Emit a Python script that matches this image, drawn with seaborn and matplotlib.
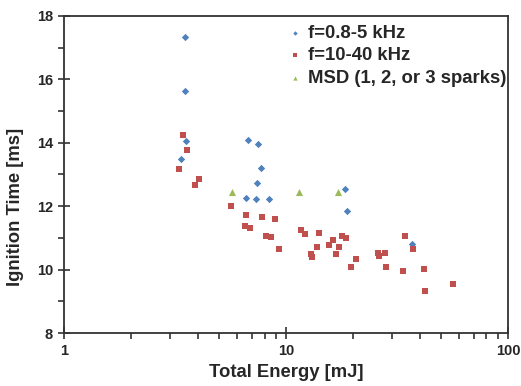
import numpy as np
import pandas as pd
import matplotlib
matplotlib.use("Agg")
import matplotlib.pyplot as plt
import seaborn as sns
from matplotlib.ticker import FixedLocator, NullFormatter, LogLocator

# data
low_f_energy = [3.51, 3.51, 3.53, 3.37, 6.74, 7.48, 7.7, 7.4, 6.6, 7.3, 8.4, 18.4, 18.9, 36.9]
low_f_time = [17.34, 15.63, 14.06, 13.49, 14.1, 13.96, 13.2, 12.73, 12.26, 12.24, 12.23, 12.54, 11.85, 10.8]

high_f_energy = [3.44, 3.59, 3.30, 4.06, 3.89, 5.65, 6.6, 6.5, 6.88, 7.8, 8.9, 8.1, 8.6, 9.3,
                 11.7, 12.2, 14.1, 13.0, 13.1, 13.8, 15.6, 16.3, 16.8, 17.3, 17.9, 18.6, 19.7,
                 20.6, 26.0, 26.2, 27.9, 28.2, 33.6, 34.3, 37.2, 41.8, 42.3, 56.5]
high_f_time = [14.25, 13.77, 13.17, 12.86, 12.67, 12.0, 11.72, 11.37, 11.31, 11.66, 11.6, 11.06, 11.03, 10.65,
               11.25, 11.12, 11.15, 10.49, 10.4, 10.71, 10.78, 10.93, 10.49, 10.71, 11.06, 11.0, 10.08,
               10.33, 10.52, 10.43, 10.52, 10.08, 9.96, 11.06, 10.65, 10.02, 9.32, 9.55]

msd_energy = [5.71, 11.45, 17.1]
msd_time = [12.45, 12.45, 12.45]

labels = ["f=0.8-5 kHz", "f=10-40 kHz", "MSD (1, 2, or 3 sparks)"]
colors = ["#4F81BD", "#C0504D", "#9BBB59"]

df = pd.DataFrame({
    "energy": low_f_energy + high_f_energy + msd_energy,
    "time": low_f_time + high_f_time + msd_time,
    "series": [labels[0]] * len(low_f_energy) + [labels[1]] * len(high_f_energy) + [labels[2]] * len(msd_energy),
})

sns.set_style("white")
plt.rcParams['font.family'] = ['Liberation Sans', 'DejaVu Sans']

fig = plt.figure(figsize=(5.21, 3.86), dpi=100)
ax = fig.add_axes([0.123, 0.137, 0.852, 0.822])

markers = {labels[0]: "D", labels[1]: "s", labels[2]: "^"}
sizes = {labels[0]: 14, labels[1]: 24, labels[2]: 26}
for lab, col in zip(labels, colors):
    sub = df[df["series"] == lab]
    sns.scatterplot(data=sub, x="energy", y="time", color=col, marker=markers[lab],
                    s=sizes[lab], linewidth=0, ax=ax, label=lab)

ax.set_xscale("log")
ax.set_xlim(1, 100)
ax.set_ylim(8, 18)
ax.set_yticks([8, 10, 12, 14, 16, 18])
ax.yaxis.set_minor_locator(FixedLocator([9, 11, 13, 15, 17]))
ax.xaxis.set_major_locator(FixedLocator([1, 10, 100]))
ax.set_xticklabels(["1", "10", "100"])
ax.xaxis.set_minor_locator(LogLocator(base=10, subs=np.arange(2, 10)))
ax.xaxis.set_minor_formatter(NullFormatter())

ax.tick_params(which="major", direction="inout", length=8, width=1.2, color="#333333",
               labelsize=10.5, pad=4)
ax.tick_params(which="minor", direction="out", length=4, width=1.2, color="#333333")
ax.tick_params(axis="y", which="both", left=True)
ax.tick_params(axis="x", which="both", bottom=True)
for lbl in ax.get_xticklabels() + ax.get_yticklabels():
    lbl.set_fontweight("bold")

for sp in ax.spines.values():
    sp.set_visible(True)
    sp.set_color("#333333")
    sp.set_linewidth(1.3)

ax.set_xlabel("Total Energy [mJ]", fontsize=13.3, fontweight="bold", labelpad=4)
ax.set_ylabel("Ignition Time [ms]", fontsize=13.3, fontweight="bold")
# the y label sits a bit below the middle in the original
ax.yaxis.set_label_coords(-0.09, 0.397)

leg = ax.legend(loc="upper right", bbox_to_anchor=(1.015, 1.0), frameon=False,
                fontsize=13.3, markerscale=0.6, handletextpad=0.1, handlelength=1.2,
                labelspacing=0.31, borderaxespad=0.0, borderpad=0.47)
for t in leg.get_texts():
    t.set_fontweight("bold")

fig.savefig("out.png", dpi=100)
